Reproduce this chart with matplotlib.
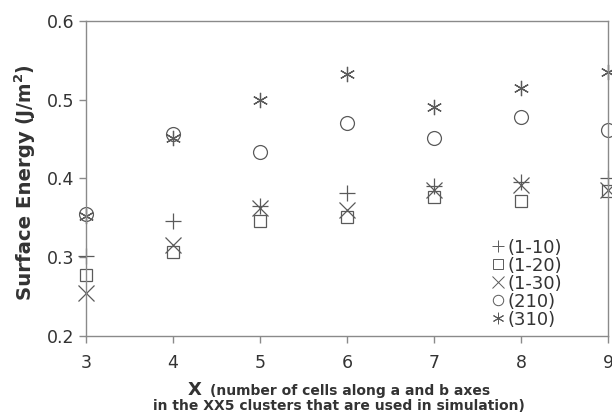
import matplotlib
matplotlib.use("Agg")
import matplotlib.pyplot as plt

# cells along a and b axes
x = [3, 4, 5, 6, 7, 8, 9]

labels = ["(1-10)", "(1-20)", "(1-30)", "(210)", "(310)"]
e_1_10 = [0.302, 0.346, 0.365, 0.381, 0.390, 0.395, 0.400]
e_1_20 = [0.277, 0.307, 0.346, 0.351, 0.376, 0.371, 0.384]
e_1_30 = [0.255, 0.316, 0.362, 0.360, 0.385, 0.392, 0.386]
e_210 = [0.355, 0.457, 0.434, 0.471, 0.452, 0.478, 0.462]
e_310 = [0.353, 0.451, 0.499, 0.532, 0.491, 0.515, 0.535]

series = [e_1_10, e_1_20, e_1_30, e_210, e_310]
markers = ["+", "s", "x", "o", (6, 2, 0)]
sizes = [11, 9, 11, 10, 11]

gray = "#5a5a5a"
txt = "#333333"

fig = plt.figure(figsize=(6.12, 4.18), dpi=100)
ax = fig.add_axes([0.1405, 0.196, 0.853, 0.754])

for ys, m, s, lab in zip(series, markers, sizes, labels):
    ax.plot(x, ys, linestyle="none", marker=m, markersize=s,
            markerfacecolor="none", markeredgecolor=gray, markeredgewidth=0.9,
            label=lab, clip_on=False)

ax.set_xlim(3, 9)
ax.set_ylim(0.2, 0.6)
ax.set_xticks(x)
ax.set_yticks([0.2, 0.3, 0.4, 0.5, 0.6])
ax.set_yticklabels(["0.2", "0.3", "0.4", "0.5", "0.6"])
for sp in ax.spines.values():
    sp.set_color("#8a8a8a")
    sp.set_linewidth(1.0)
ax.tick_params(colors="#8a8a8a", labelcolor=txt, labelsize=12.5, length=5, width=1)
ax.tick_params(axis="x", pad=8)

leg = ax.legend(loc="lower left", bbox_to_anchor=(0.76, -0.005), frameon=False,
                fontsize=13, handlelength=0.7, handletextpad=0.15,
                labelspacing=0.0, borderpad=0, markerscale=0.75)
for t in leg.get_texts():
    t.set_color(txt)
for h in leg.legend_handles:
    h.set_markeredgewidth(0.7)

# y label in two parts
fig.text(0.041, 0.282, "Surface Energy", rotation=90, rotation_mode="anchor",
         ha="left", va="center", fontsize=14.2, fontweight="bold", color=txt)
fig.text(0.041, 0.700, r"(J/m$^{\mathbf{2}}$)", rotation=90, rotation_mode="anchor",
         ha="left", va="center", fontsize=13.5, fontweight="bold", color=txt)

# x label
fig.text(188 / 612, 1 - 395 / 418, "X", fontsize=13, fontweight="bold", color=txt,
         ha="left", va="baseline")
fig.text(210 / 612, 1 - 395 / 418, "(number of cells along a and b axes", fontsize=10,
         fontweight="bold", color=txt, ha="left", va="baseline")
fig.text(153 / 612, 1 - 410 / 418, "in the XX5 clusters that are used in simulation)",
         fontsize=10, fontweight="bold", color=txt, ha="left", va="baseline")

fig.savefig("out.png", dpi=100)
